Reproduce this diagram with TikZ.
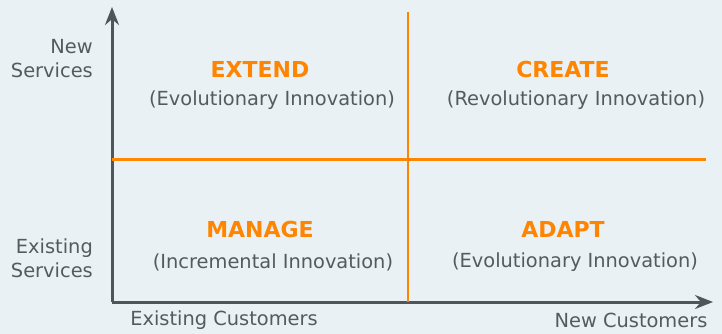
\documentclass[tikz,border=0pt]{standalone}
\usepackage{fontspec}
\setmainfont{DejaVu Sans}
\usepackage{xcolor}
\usepackage{tikz}
\usetikzlibrary{arrows.meta,positioning}

\definecolor{bgblue}{HTML}{E9F1F5}
\definecolor{axisgray}{HTML}{50555A}
\definecolor{txtgray}{HTML}{555A5F}
\definecolor{quadorange}{HTML}{FF8500}

\begin{document}
\begin{tikzpicture}[x=1pt, y=-1pt,
        every node/.style={font=\fontsize{19.4}{24}\selectfont, text=txtgray, inner sep=0pt},
        quadtitle/.style={font=\fontsize{22}{24}\selectfont\bfseries, text=quadorange},
        axislabel/.style={align=right, anchor=east},
    ]
        % Background
        \fill[bgblue] (0,0) rectangle (722,334);

        % Axes
        \coordinate (origin) at (112,302);
        \coordinate (ytip) at (112,7);
        \coordinate (xtip) at (713,302);
        \draw[axisgray, line width=3pt, -{Stealth[length=18pt, width=14pt]}] (origin) -- (ytip);
        \draw[axisgray, line width=3pt, -{Stealth[length=18pt, width=14pt]}] (origin) -- (xtip);

        % Quadrant lines
        \coordinate (vtop) at (408,12);
        \coordinate (vbot) at (408,302);
        \coordinate (hleft) at (112,159.5);
        \coordinate (hright) at (706,159.5);
        \draw[quadorange, line width=2.6pt] (vtop) -- (vbot);
        \draw[quadorange, line width=2.6pt] (hleft) -- (hright);

        % Quadrants
        \node[quadtitle] (extend) at (260,69) {EXTEND};
        \node (extendsub) at (272,100) {(Evolutionary Innovation)};
        \node[quadtitle] (create) at (563,69) {CREATE};
        \node (createsub) at (576,100) {(Revolutionary Innovation)};
        \node[quadtitle] (manage) at (260,229) {MANAGE};
        \node (managesub) at (273,262) {(Incremental Innovation)};
        \node[quadtitle] (adapt) at (563,229) {ADAPT};
        \node (adaptsub) at (575,262) {(Evolutionary Innovation)};

        % Axis labels
        \node[axislabel] (newserv) at (93,59) {New\\Services};
        \node[axislabel] (oldserv) at (93,258) {Existing\\Services};
        \node (oldcust) at (224,320) {Existing Customers};
        \node (newcust) at (631,320) {New Customers};
    \end{tikzpicture}
\end{document}
